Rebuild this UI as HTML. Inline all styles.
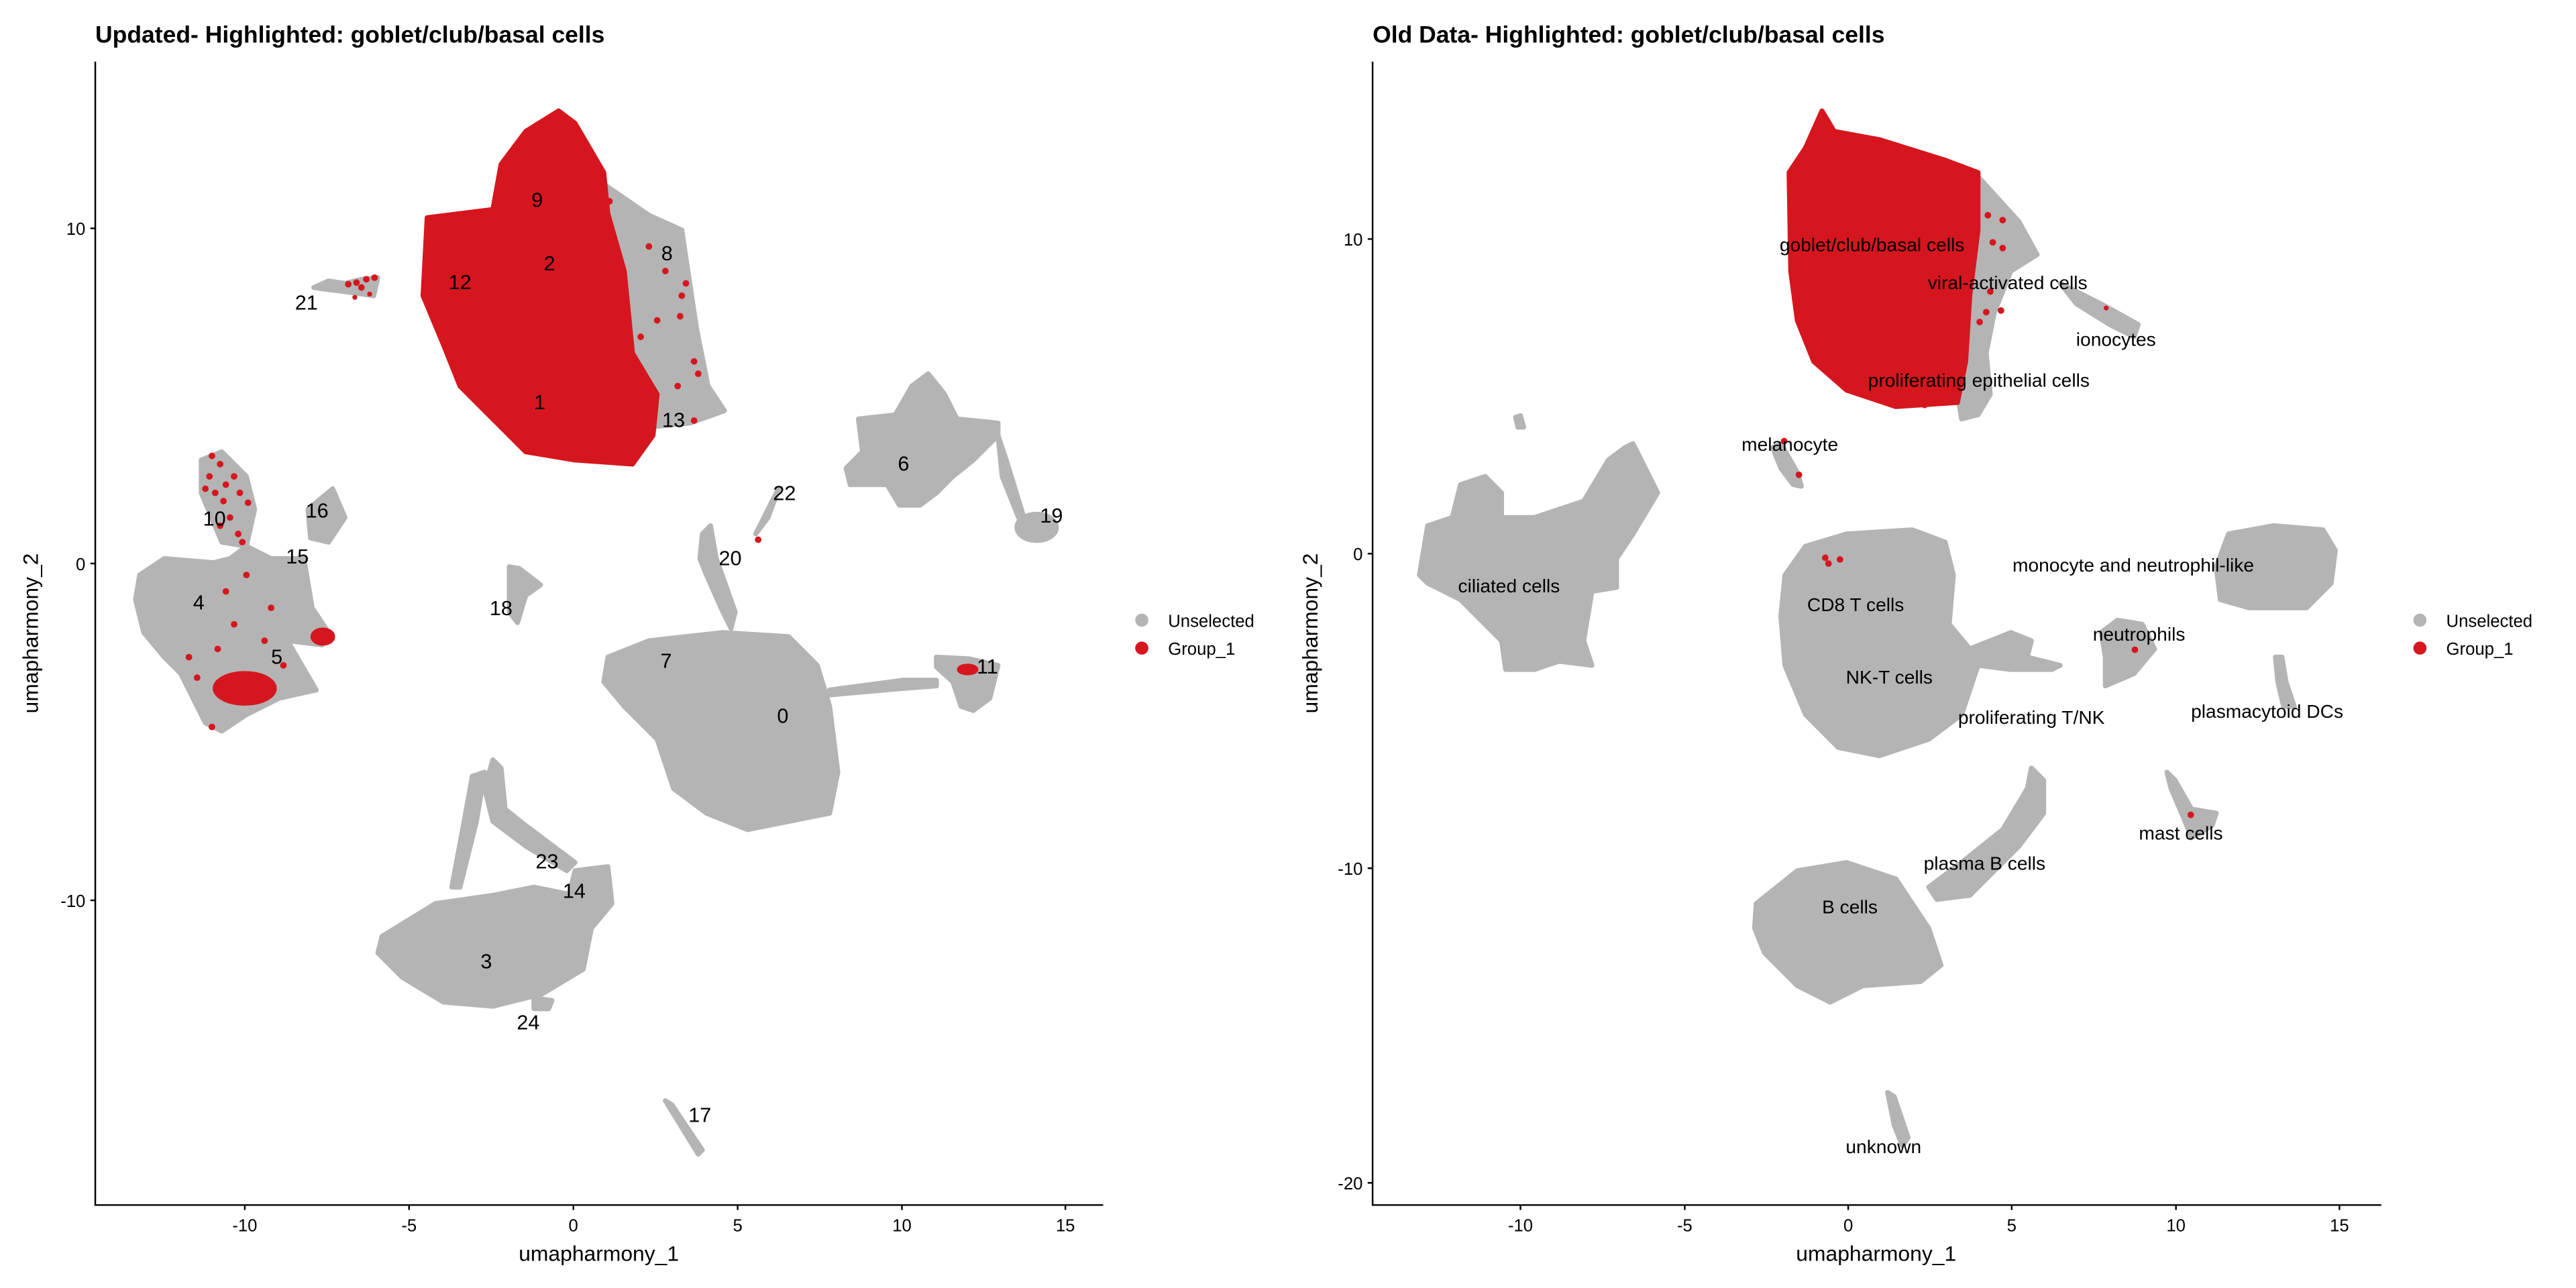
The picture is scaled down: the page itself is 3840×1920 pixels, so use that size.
<!DOCTYPE html>
<html><head><meta charset="utf-8"><style>
html,body{margin:0;padding:0;background:#fff;width:3840px;height:1920px;overflow:hidden}
svg{position:absolute;top:0}
text{font-family:"Liberation Sans",Arial,sans-serif}
</style></head><body>
<svg style="left:0" width="1920" height="1920" viewBox="0 0 1568 1568">
<g fill="#b4b4b4" stroke="#b4b4b4" stroke-width="6" stroke-linejoin="round">
<polygon points="700,200 790,262 830,280 848,400 862,470 882,500 840,515 790,520 760,460"/>
<polygon points="382,350 400,342 420,345 440,340 460,338 455,360 420,355 395,352"/>
<polygon points="170,700 200,680 260,685 280,680 300,665 330,680 370,680 380,740 400,770 392,785 350,780 385,840 340,850 300,870 270,890 250,880 220,820 200,800 175,770 165,730"/>
<polygon points="245,560 270,550 300,580 310,620 300,665 270,660 245,600"/>
<polygon points="375,620 405,595 420,630 400,660 378,655"/>
<polygon points="620,690 632,692 658,712 640,725 630,758 620,745"/>
<polygon points="855,650 865,640 872,680 895,745 890,765 880,745 860,700 852,680"/>
<polygon points="920,650 940,610 948,595 935,630"/>
<polygon points="740,800 790,780 880,770 960,775 995,810 1010,860 1020,940 1010,990 960,1000 910,1010 860,990 820,960 800,900 760,860 735,830"/>
<polygon points="1010,840 1100,828 1140,828 1140,835 1100,838 1010,846"/>
<polygon points="1140,800 1180,802 1215,810 1205,850 1185,865 1170,860 1160,830 1140,812"/>
<polygon points="1045,510 1090,505 1110,470 1130,455 1150,480 1165,510 1215,515 1215,530 1185,560 1160,580 1140,600 1120,615 1095,615 1080,590 1035,590 1030,570 1050,550"/>
<polygon points="1215,530 1225,560 1245,625 1240,630 1220,580"/>
<ellipse cx="1262" cy="642" rx="24" ry="16"/>
<polygon points="465,1140 530,1100 600,1090 650,1080 700,1090 720,1130 710,1180 660,1210 600,1225 540,1220 490,1190 460,1160"/>
<polygon points="700,1060 740,1055 745,1100 720,1130 690,1100"/>
<polygon points="600,925 610,935 615,985 640,1005 700,1050 690,1060 640,1030 600,1000 590,960"/>
<polygon points="575,945 590,940 580,1000 560,1080 550,1080 565,1000"/>
<polygon points="650,1215 672,1218 668,1228 650,1228"/>
<polygon points="810,1340 818,1345 855,1400 850,1405"/>
</g>
<g fill="#d6161e" stroke="#d6161e" stroke-width="6" stroke-linejoin="round">
<polygon points="680,135 700,150 735,210 740,260 760,330 770,430 800,480 795,530 770,565 700,560 640,550 590,500 560,470 540,420 515,360 520,265 600,255 610,200 640,160"/>
<ellipse cx="298" cy="838" rx="36" ry="18"/>
<ellipse cx="393" cy="775" rx="12" ry="8"/>
<ellipse cx="1178" cy="815" rx="10" ry="4"/>
</g>
<g fill="#d6161e">
<circle cx="810" cy="330" r="4"/><circle cx="835" cy="345" r="4"/><circle cx="828" cy="385" r="4"/><circle cx="800" cy="390" r="4"/><circle cx="845" cy="440" r="4"/><circle cx="825" cy="470" r="4"/><circle cx="850" cy="455" r="4"/><circle cx="845" cy="512" r="4"/><circle cx="790" cy="300" r="4"/><circle cx="780" cy="410" r="4"/><circle cx="830" cy="360" r="4"/><circle cx="742" cy="245" r="4"/>
<circle cx="290" cy="650" r="4"/><circle cx="300" cy="700" r="4"/><circle cx="275" cy="720" r="4"/><circle cx="330" cy="740" r="4"/><circle cx="265" cy="790" r="4"/><circle cx="230" cy="800" r="4"/><circle cx="322" cy="780" r="4"/><circle cx="285" cy="760" r="4"/><circle cx="258" cy="885" r="4"/><circle cx="268" cy="640" r="4"/><circle cx="302" cy="612" r="4"/><circle cx="240" cy="825" r="4"/><circle cx="345" cy="810" r="4"/>
<circle cx="258" cy="555" r="4"/><circle cx="268" cy="565" r="4"/><circle cx="255" cy="580" r="4"/><circle cx="275" cy="590" r="4"/><circle cx="262" cy="600" r="4"/><circle cx="285" cy="580" r="4"/><circle cx="292" cy="600" r="4"/><circle cx="250" cy="595" r="4"/><circle cx="272" cy="610" r="4"/><circle cx="280" cy="630" r="4"/><circle cx="295" cy="660" r="4"/>
<circle cx="424" cy="346" r="4"/><circle cx="434" cy="344" r="4"/><circle cx="446" cy="340" r="4"/><circle cx="456" cy="338" r="4"/><circle cx="440" cy="350" r="4"/><circle cx="450" cy="358" r="3"/>
<circle cx="923" cy="657" r="4"/><circle cx="432" cy="362" r="3"/>
</g>
<g font-size="25" text-anchor="middle" fill="#000">
<text x="654" y="252">9</text><text x="669" y="329">2</text><text x="812" y="317">8</text><text x="560" y="352">12</text><text x="373" y="377">21</text><text x="657" y="498">1</text><text x="820" y="520">13</text>
<text x="1100" y="573">6</text><text x="955" y="609">22</text><text x="1280" y="636">19</text><text x="261" y="640">10</text><text x="386" y="630">16</text><text x="362" y="686">15</text><text x="889" y="688">20</text>
<text x="242" y="742">4</text><text x="610" y="749">18</text><text x="337" y="808">5</text><text x="811" y="813">7</text><text x="1202" y="820">11</text><text x="953" y="880">0</text>
<text x="666" y="1057">23</text><text x="699" y="1093">14</text><text x="592" y="1179">3</text><text x="643" y="1253">24</text><text x="852" y="1366">17</text>
</g>
<g stroke="#000" stroke-width="2" fill="none">
<path d="M116,75 V1467 H1343"/>
<path d="M110,278 H116 M110,686 H116 M110,1096 H116 M298,1467 V1473 M498,1467 V1473 M698,1467 V1473 M898,1467 V1473 M1098,1467 V1473 M1297,1467 V1473"/>
</g>
<g font-size="21" fill="#000">
<g text-anchor="end"><text x="104" y="286">10</text><text x="104" y="694">0</text><text x="104" y="1104">-10</text></g>
<g text-anchor="middle"><text x="298" y="1499">-10</text><text x="498" y="1499">-5</text><text x="698" y="1499">0</text><text x="898" y="1499">5</text><text x="1098" y="1499">10</text><text x="1297" y="1499">15</text></g>
<text x="729" y="1535" font-size="26" text-anchor="middle">umapharmony_1</text>
<text transform="translate(46,771) rotate(-90)" font-size="26" text-anchor="middle">umapharmony_2</text>
<text x="116" y="52" font-size="29" font-weight="bold">Updated- Highlighted: goblet/club/basal cells</text>
<circle cx="1390" cy="755" r="8" fill="#b4b4b4"/><circle cx="1390" cy="789" r="8" fill="#d6161e"/>
<text x="1422" y="763">Unselected</text><text x="1422" y="797">Group_1</text>
</g>
</svg>

<svg style="left:1920px" width="1920" height="1920" viewBox="0 0 1568 1568">
<g fill="#b4b4b4" stroke="#b4b4b4" stroke-width="6" stroke-linejoin="round">
<polygon points="840,215 890,270 912,310 880,330 860,380 850,430 855,480 840,505 820,510 815,480"/>
<polygon points="940,345 990,370 1035,395 1030,410 1000,395 960,370"/>
<polygon points="590,545 600,540 620,575 625,592 615,590 600,570"/>
<polygon points="277,508 283,506 287,520 280,520"/>
<polygon points="160,700 170,640 200,630 210,590 240,580 260,600 260,630 300,630 360,610 390,560 410,545 420,540 450,600 420,650 400,680 400,715 370,720 360,780 370,810 330,805 300,815 265,815 260,780 240,760 210,730 170,710"/>
<polygon points="605,700 630,665 680,650 760,645 800,660 810,700 805,760 830,790 880,770 905,780 900,800 940,810 930,815 880,815 840,810 830,840 820,870 780,900 720,920 670,910 630,870 605,810 600,750"/>
<polygon points="990,770 1010,755 1040,760 1055,790 1030,820 995,835 995,800"/>
<polygon points="1145,650 1200,640 1260,645 1275,670 1270,710 1240,740 1170,740 1135,730 1130,690"/>
<polygon points="1202,800 1210,800 1215,830 1225,860 1212,860 1205,830"/>
<polygon points="1070,940 1080,950 1100,985 1130,990 1125,1005 1100,1020 1090,995 1075,960"/>
<polygon points="780,1080 820,1050 870,1010 900,960 905,935 920,950 920,990 890,1030 860,1060 830,1090 790,1095"/>
<polygon points="570,1100 620,1060 680,1050 740,1070 780,1130 795,1175 770,1195 700,1200 660,1220 620,1200 580,1160 568,1130"/>
<polygon points="730,1330 738,1335 755,1385 748,1395 738,1370"/>
</g>
<g fill="#d6161e" stroke="#d6161e" stroke-width="6" stroke-linejoin="round">
<polygon points="650,135 665,160 720,170 800,195 840,210 840,280 830,360 825,440 815,490 740,495 680,475 640,440 620,390 612,330 610,210 630,180"/>
</g>
<g fill="#d6161e">
<circle cx="852" cy="262" r="4"/><circle cx="870" cy="268" r="4"/><circle cx="858" cy="295" r="4"/><circle cx="870" cy="302" r="4"/><circle cx="855" cy="355" r="4"/><circle cx="868" cy="378" r="4"/><circle cx="842" cy="392" r="4"/><circle cx="850" cy="380" r="4"/><circle cx="996" cy="375" r="3"/>
<circle cx="604" cy="537" r="4"/><circle cx="622" cy="578" r="4"/><circle cx="654" cy="679" r="4"/><circle cx="658" cy="686" r="4"/><circle cx="672" cy="681" r="4"/><circle cx="1031" cy="791" r="4"/><circle cx="1099" cy="992" r="4"/><circle cx="775" cy="493" r="4"/>
</g>
<g font-size="23" text-anchor="middle" fill="#000">
<text x="711" y="306">goblet/club/basal cells</text><text x="876" y="352">viral-activated cells</text><text x="1008" y="421">ionocytes</text><text x="841" y="471">proliferating epithelial cells</text>
<text x="611" y="549">melanocyte</text><text x="1029" y="696">monocyte and neutrophil-like</text><text x="269" y="721">ciliated cells</text><text x="691" y="744">CD8 T cells</text>
<text x="1036" y="780">neutrophils</text><text x="732" y="832">NK-T cells</text><text x="905" y="881">proliferating T/NK</text><text x="1192" y="874">plasmacytoid DCs</text>
<text x="1087" y="1022">mast cells</text><text x="848" y="1059">plasma B cells</text><text x="684" y="1112">B cells</text><text x="725" y="1404">unknown</text>
</g>
<g stroke="#000" stroke-width="2" fill="none">
<path d="M103,75 V1467 H1331"/>
<path d="M97,291 H103 M97,674 H103 M97,1057 H103 M97,1440 H103 M283,1467 V1473 M483,1467 V1473 M682,1467 V1473 M881,1467 V1473 M1081,1467 V1473 M1280,1467 V1473"/>
</g>
<g font-size="21" fill="#000">
<g text-anchor="end"><text x="91" y="299">10</text><text x="91" y="682">0</text><text x="91" y="1065">-10</text><text x="91" y="1448">-20</text></g>
<g text-anchor="middle"><text x="283" y="1499">-10</text><text x="483" y="1499">-5</text><text x="682" y="1499">0</text><text x="881" y="1499">5</text><text x="1081" y="1499">10</text><text x="1280" y="1499">15</text></g>
<text x="716" y="1535" font-size="26" text-anchor="middle">umapharmony_1</text>
<text transform="translate(36,771) rotate(-90)" font-size="26" text-anchor="middle">umapharmony_2</text>
<text x="103" y="52" font-size="29" font-weight="bold">Old Data- Highlighted: goblet/club/basal cells</text>
<circle cx="1378" cy="755" r="8" fill="#b4b4b4"/><circle cx="1378" cy="789" r="8" fill="#d6161e"/>
<text x="1410" y="763">Unselected</text><text x="1410" y="797">Group_1</text>
</g>
</svg>
</body></html>
